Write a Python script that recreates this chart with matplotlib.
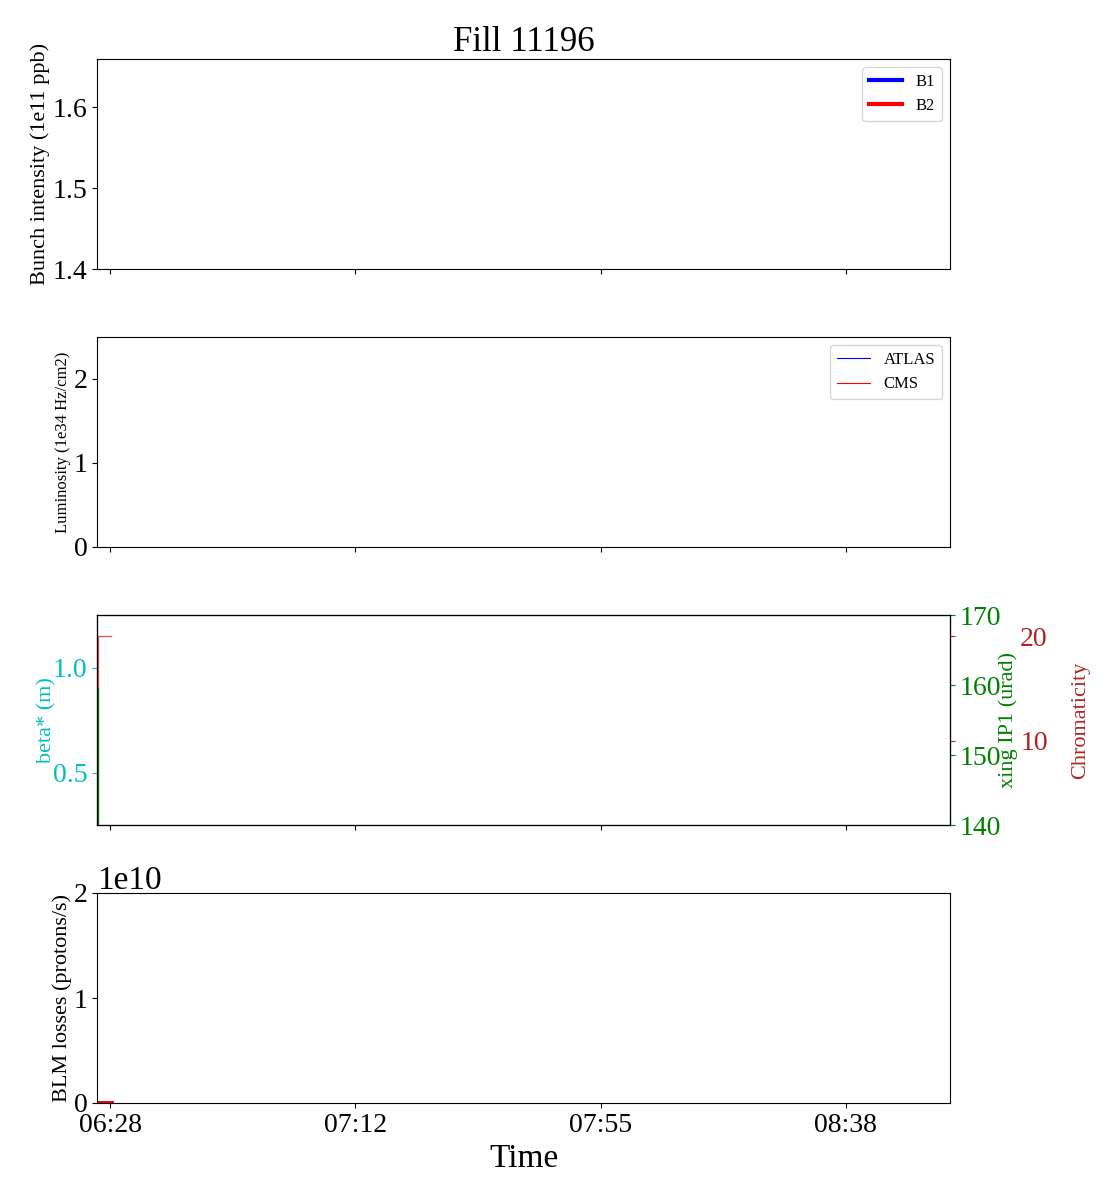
import matplotlib
matplotlib.use("Agg")
import matplotlib.pyplot as plt
import numpy as np

plt.rcParams['font.family'] = ['Liberation Serif', 'DejaVu Serif']

title = "Fill 11196"
tick_pos = [0.0, 43.33, 86.67, 130.0]          # minutes after 06:28
tick_labels = ["06:28", "07:12", "07:55", "08:38"]
xlim = (-2.3, 148.4)

# Panel 3 data (minutes after 06:28)
xing_t = [-2.2, -2.2, -2.1]
xing_v = [135.0, 159.6, 159.6]
chroma_t = [-2.2, -2.2, 0.2]
chroma_v = [15.1, 20.0, 20.0]
beta_t = [-2.2, -2.1]
beta_v = [1.30, 1.30]

# Panel 4 data
blm_t = [-2.3, 0.4]
blm_b1 = [1.0e8, 1.0e8]
blm_b2 = [1.0e8, 1.0e8]

fig = plt.figure(figsize=(11.2, 12), dpi=100)
W, H = 1120, 1200
left, right = 97 / W, 950 / W
tops = [59, 337, 615, 893]
h = 210
axes = []
for i, t in enumerate(tops):
    ax = fig.add_axes([left, 1 - (t + h) / H, right - left, h / H],
                      sharex=axes[0] if axes else None)
    axes.append(ax)

for ax in axes:
    ax.set_xlim(*xlim)
    ax.set_xticks(tick_pos)
    ax.set_xticklabels(tick_labels)
    ax.tick_params(labelsize=20)
for ax in axes[:3]:
    ax.tick_params(labelbottom=False)

# Panel 1
ax1 = axes[0]
ax1.plot([], [], color='blue', lw=3, label='B1')
ax1.plot([], [], color='red', lw=3, label='B2')
ax1.set_ylim(1.4, 1.66)
ax1.set_yticks([1.4, 1.5, 1.6])
ax1.set_ylabel("Bunch intensity (1e11 ppb)", fontsize=16, labelpad=1.5)
ax1.legend(loc='upper right', fontsize=12)
ax1.set_title(title, fontsize=25)

# Panel 2
ax2 = axes[1]
ax2.plot([], [], color='blue', lw=0.8, label='ATLAS')
ax2.plot([], [], color='red', lw=0.8, label='CMS')
ax2.set_ylim(0, 2.5)
ax2.set_yticks([0, 1, 2])
ax2.set_ylabel("Luminosity (1e34 Hz/cm2)", fontsize=12, labelpad=1.5)
ax2.legend(loc='upper right', fontsize=12)

# Panel 3
ax3 = axes[2]
ax3.plot(beta_t, beta_v, color='c', lw=1)
ax3.set_ylim(0.25, 1.25)
ax3.set_yticks([0.5, 1.0])
ax3.set_ylabel("beta* (m)", color='c', fontsize=16, labelpad=-3)
ax3.tick_params(axis='y', colors='c')

ax3b = ax3.twinx()
ax3b.plot(xing_t, xing_v, color='green', lw=1)
ax3b.set_ylim(140, 170)
ax3b.set_yticks([140, 150, 160, 170])
ax3b.set_ylabel("xing IP1 (urad)", color='green', fontsize=16, labelpad=-2)
ax3b.tick_params(axis='y', colors='green', labelsize=20)

ax3c = ax3.twinx()
ax3c.plot(chroma_t, chroma_v, color='#cc3333', lw=1, alpha=0.8)
ax3c.set_ylim(2, 22)
ax3c.set_yticks([10, 20])
ax3c.set_ylabel("Chromaticity", color='#b22222', fontsize=16, labelpad=17)
ax3c.tick_params(axis='y', colors='#b22222', labelsize=20, pad=47)

# Panel 4
ax4 = axes[3]
ax4.plot(blm_t, blm_b1, color='blue', lw=2)
ax4.plot(blm_t, blm_b2, color='red', lw=2)
ax4.set_ylim(0, 2e10)
ax4.set_yticks([0, 1e10, 2e10])
ax4.yaxis.get_offset_text().set_fontsize(24)
ax4.set_ylabel("BLM losses (protons/s)", fontsize=16, labelpad=1)
ax4.set_xlabel("Time", fontsize=24)

fig.savefig("out.png", dpi=100)
